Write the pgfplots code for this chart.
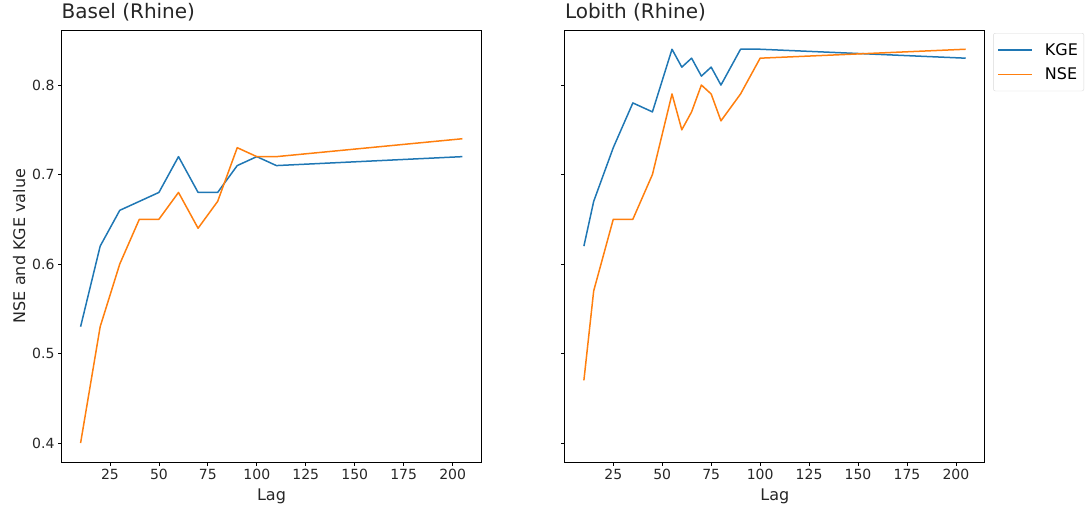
\documentclass[border=0pt]{standalone}
\usepackage{fontspec}
\setmainfont{DejaVu Sans}
\usepackage{pgfplots}
\pgfplotsset{compat=1.18}
\definecolor{tabblue}{HTML}{1F77B4}
\definecolor{taborange}{HTML}{FF7F0E}
\pgfplotsset{
  myax/.style={
    scale only axis, width=420pt, height=432pt,
    xmin=0.25, xmax=214.75, ymin=0.3788, ymax=0.8615,
    xtick={25,50,...,200}, ytick={0.4,0.5,0.6,0.7,0.8},
    tick align=outside, xtick pos=bottom, ytick pos=left,
    major tick length=3.5pt,
    tick style={black, line width=0.8pt},
    axis line style={black, line width=0.8pt},
    /pgf/number format/assume math mode=true,
    tick label style={font=\fontsize{14}{16}\selectfont, text=black!85},
    yticklabel style={/pgf/number format/fixed, /pgf/number format/precision=1, /pgf/number format/fixed zerofill},
    label style={font=\fontsize{16}{18}\selectfont, text=black!85},
    xlabel style={yshift=-2pt},
    title style={font=\fontsize{20}{22}\selectfont, at={(0,1)}, anchor=base west, inner sep=0pt, yshift=5pt, text=black!85},
    every axis plot/.append style={line width=1.5pt, mark=none, line join=round},
  }
}
\begin{document}
\begin{tikzpicture}
\useasboundingbox (0,0) rectangle (1089pt,507pt);
\begin{axis}[myax, at={(61.5pt,45pt)}, anchor=south west,
  title={Basel (Rhine)}, xlabel={Lag}, ylabel={NSE and KGE value}]
\addplot[tabblue] coordinates {(10,0.53)(20,0.62)(30,0.66)(40,0.67)(50,0.68)(60,0.72)(70,0.68)(80,0.68)(90,0.71)(100,0.72)(110,0.71)(205,0.72)};
\addplot[taborange] coordinates {(10,0.40)(20,0.53)(30,0.60)(40,0.65)(50,0.65)(60,0.68)(70,0.64)(80,0.67)(90,0.73)(100,0.72)(110,0.72)(205,0.74)};
\end{axis}
\begin{axis}[myax, at={(564.8pt,45pt)}, anchor=south west,
  title={Lobith (Rhine)}, xlabel={Lag}, yticklabels={},
  legend style={at={(1.02,0.993)}, anchor=north west, draw=black!15, rounded corners=2pt,
    font=\fontsize{16}{18}\selectfont, inner xsep=4pt, inner ysep=8pt, row sep=7pt},
  legend cell align=left,
  legend image code/.code={\draw[line width=1.5pt] (0pt,0pt) -- (34pt,0pt); \path (44pt,0pt);}]
\addplot[tabblue] coordinates {(10,0.62)(15,0.67)(25,0.73)(35,0.78)(45,0.77)(55,0.84)(60,0.82)(65,0.83)(70,0.81)(75,0.82)(80,0.80)(90,0.84)(100,0.84)(205,0.83)};
\addlegendentry{KGE}
\addplot[taborange] coordinates {(10,0.47)(15,0.57)(25,0.65)(35,0.65)(45,0.70)(55,0.79)(60,0.75)(65,0.77)(70,0.80)(75,0.79)(80,0.76)(90,0.79)(100,0.83)(205,0.84)};
\addlegendentry{NSE}
\end{axis}
\end{tikzpicture}
\end{document}
